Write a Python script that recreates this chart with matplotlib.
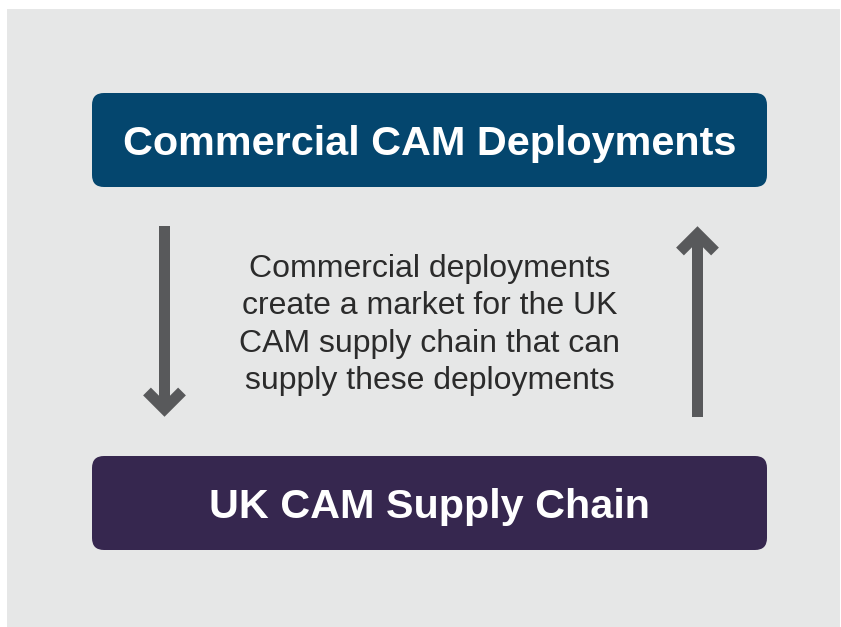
import matplotlib
matplotlib.use('Agg')
import matplotlib.pyplot as plt
from matplotlib.patches import FancyBboxPatch, Rectangle

top_label = 'Commercial CAM Deployments'
bottom_label = 'UK CAM Supply Chain'
middle_lines = ['Commercial deployments',
                'create a market for the UK',
                'CAM supply chain that can',
                'supply these deployments']

bg = '#e6e7e7'
blue = '#04466e'
purple = '#36274f'
grey = '#58595b'
txt = '#2b2b2b'

W, H = 841, 627
fig = plt.figure(figsize=(W/100, H/100), dpi=100)
ax = fig.add_axes([0, 0, 1, 1])
ax.set_xlim(0, W)
ax.set_ylim(H, 0)
ax.axis('off')

ax.add_patch(Rectangle((7, 9), 833, 618, color=bg, lw=0))

# the two boxes
for y0, col, label in [(93, blue, top_label), (456, purple, bottom_label)]:
    ax.add_patch(FancyBboxPatch((92, y0), 675, 94, boxstyle='round,pad=0,rounding_size=12',
                                fc=col, ec='none'))
    ax.text(429.5, y0 + 51, label, color='white', fontsize=29.8, fontweight='bold',
            family='Liberation Sans', ha='center', va='center')

ax.text(430, 325, '\n'.join(middle_lines), color=txt, fontsize=23, family='Liberation Sans',
        ha='center', va='center', linespacing=1.31)

lw = 11 * 72 / 100
# down arrow
ax.add_patch(Rectangle((159, 226), 11, 180, color=grey, lw=0))
ax.plot([147, 164.5, 182], [391.5, 409, 391.5], color=grey, lw=lw,
        solid_joinstyle='miter', solid_capstyle='butt')
# up arrow
ax.add_patch(Rectangle((692, 240), 11, 177, color=grey, lw=0))
ax.plot([680, 697.5, 715], [251.5, 234, 251.5], color=grey, lw=lw,
        solid_joinstyle='miter', solid_capstyle='butt')

fig.savefig('out.png', dpi=100)
